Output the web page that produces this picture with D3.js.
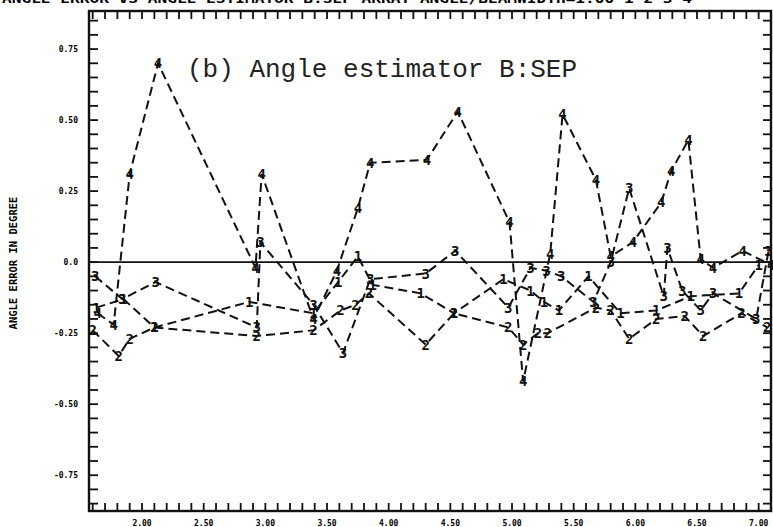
<!DOCTYPE html>
<html>
<head>
<meta charset="utf-8">
<script src="https://cdn.jsdelivr.net/npm/d3@7"></script>
<style>
  body { margin: 0; background: #fff; }
  svg { display: block; }
</style>
</head>
<body>
<div id="canvas"></div>
<script>
// plot frame in pixels
var W = 773, H = 527;
var frame = { left: 89, right: 771, top: 11, bottom: 511 };

// axis ticks and labels
var xLabelValues = [2.0, 2.5, 3.0, 3.5, 4.0, 4.5, 5.0, 5.5, 6.0, 6.5, 7.0];
var xLabels = ["2.00", "2.50", "3.00", "3.50", "4.00", "4.50", "5.00", "5.50", "6.00", "6.50", "7.00"];
var yLabelValues = [0.75, 0.5, 0.25, 0, -0.25, -0.5, -0.75];
var yLabels = ["0.75", "0.50", "0.25", "0.0", "-0.25", "-0.50", "-0.75"];

// series (x, angle error)
var s1x = [1.63, 1.85, 2.10, 2.87, 3.39, 3.59, 3.75, 3.87, 4.26, 4.53, 4.93, 5.15, 5.26, 5.38, 5.62, 5.88, 6.17, 6.45, 6.84, 7.00];
var s1y = [-0.16, -0.13, -0.23, -0.14, -0.18, -0.07, 0.02, -0.08, -0.11, -0.18, -0.06, -0.10, -0.14, -0.17, -0.05, -0.18, -0.17, -0.12, -0.11, -0.01];

var s2x = [1.60, 1.81, 1.90, 2.10, 2.93, 3.39, 3.61, 3.73, 3.84, 4.30, 4.53, 4.97, 5.09, 5.21, 5.29, 5.68, 5.80, 5.95, 6.17, 6.40, 6.55, 6.86, 7.07];
var s2y = [-0.24, -0.33, -0.27, -0.23, -0.26, -0.24, -0.17, -0.15, -0.11, -0.29, -0.18, -0.23, -0.29, -0.25, -0.25, -0.16, -0.17, -0.27, -0.20, -0.19, -0.26, -0.18, -0.23];

var s3x = [1.62, 1.84, 2.11, 2.93, 2.96, 3.39, 3.63, 3.85, 4.30, 4.54, 4.97, 5.15, 5.28, 5.40, 5.66, 5.80, 5.95, 6.23, 6.26, 6.38, 6.53, 6.63, 6.98, 7.08];
var s3y = [-0.05, -0.13, -0.07, -0.23, 0.07, -0.15, -0.32, -0.06, -0.04, 0.04, -0.16, -0.02, -0.03, -0.05, -0.14, 0.00, 0.26, -0.12, 0.05, -0.10, -0.17, -0.11, -0.20, 0.04];

var s4x = [1.64, 1.77, 1.90, 2.13, 2.92, 2.97, 3.39, 3.58, 3.75, 3.85, 4.31, 4.56, 4.98, 5.09, 5.31, 5.41, 5.68, 5.80, 5.98, 6.21, 6.29, 6.43, 6.53, 6.63, 6.87, 7.10];
var s4y = [-0.18, -0.22, 0.31, 0.70, -0.02, 0.31, -0.20, -0.03, 0.19, 0.35, 0.36, 0.53, 0.14, -0.42, 0.03, 0.52, 0.29, 0.02, 0.07, 0.21, 0.32, 0.43, 0.01, -0.02, 0.04, -0.01];

var series = [
  { mark: "1", xs: s1x, ys: s1y },
  { mark: "2", xs: s2x, ys: s2y },
  { mark: "3", xs: s3x, ys: s3y },
  { mark: "4", xs: s4x, ys: s4y },
];

var svg = d3
  .select("#canvas")
  .append("svg")
  .attr("width", W)
  .attr("height", H);

var xScale = d3.scaleLinear().domain([1.57, 7.1]).range([frame.left, frame.right]);
var yScale = d3.scaleLinear().domain([-0.876, 0.884]).range([frame.bottom, frame.top]);

// header strip (cut off at the top of the scan)
svg
  .append("text")
  .attr("x", 2)
  .attr("y", 3)
  .attr("textLength", 690)
  .attr("lengthAdjust", "spacingAndGlyphs")
  .style("font-family", "DejaVu Sans Mono")
  .style("font-weight", "bold")
  .style("font-size", "12px")
  .text("ANGLE ERROR VS ANGLE ESTIMATOR B:SEP   ARRAY ANGLE/BEAMWIDTH=1.00   1 2 3 4");

// minor ticks
var xTicks = d3.range(16, 72).map((d) => d / 10);
var yTicks = d3.range(-17, 18).map((d) => d / 20);

var ticks = svg.append("g").attr("stroke", "#111").attr("stroke-width", 1.8);

ticks
  .selectAll(".tt")
  .data(xTicks)
  .enter()
  .append("line")
  .attr("x1", (d) => xScale(d))
  .attr("x2", (d) => xScale(d))
  .attr("y1", frame.top)
  .attr("y2", frame.top + 8);

ticks
  .selectAll(".tb")
  .data(xTicks)
  .enter()
  .append("line")
  .attr("x1", (d) => xScale(d))
  .attr("x2", (d) => xScale(d))
  .attr("y1", frame.bottom)
  .attr("y2", frame.bottom - 8);

ticks
  .selectAll(".tl")
  .data(yTicks)
  .enter()
  .append("line")
  .attr("x1", frame.left)
  .attr("x2", frame.left + 9)
  .attr("y1", (d) => yScale(d))
  .attr("y2", (d) => yScale(d));

ticks
  .selectAll(".tr")
  .data(yTicks)
  .enter()
  .append("line")
  .attr("x1", frame.right)
  .attr("x2", frame.right - 8)
  .attr("y1", (d) => yScale(d))
  .attr("y2", (d) => yScale(d));

// frame
svg
  .append("rect")
  .attr("x", frame.left)
  .attr("y", frame.top)
  .attr("width", frame.right - frame.left)
  .attr("height", frame.bottom - frame.top)
  .attr("fill", "none")
  .attr("stroke", "#111")
  .attr("stroke-width", 2.4);

// zero line
svg
  .append("line")
  .attr("x1", frame.left)
  .attr("x2", frame.right)
  .attr("y1", yScale(0))
  .attr("y2", yScale(0))
  .attr("stroke", "#111")
  .attr("stroke-width", 1.6);

// tick labels
svg
  .selectAll(".xl")
  .data(xLabelValues)
  .enter()
  .append("text")
  .attr("x", (d) => xScale(d))
  .attr("y", 526)
  .attr("text-anchor", "middle")
  .style("font-family", "DejaVu Sans Mono")
  .style("font-weight", "bold")
  .style("font-size", "8px")
  .text((d, i) => xLabels[i]);

svg
  .selectAll(".yl")
  .data(yLabelValues)
  .enter()
  .append("text")
  .attr("x", 78)
  .attr("y", (d) => yScale(d) + 3)
  .attr("text-anchor", "end")
  .style("font-family", "DejaVu Sans Mono")
  .style("font-weight", "bold")
  .style("font-size", "8px")
  .text((d, i) => yLabels[i]);

// y axis title
svg
  .append("text")
  .attr("transform", "translate(17," + 263 + ") rotate(-90)")
  .attr("text-anchor", "middle")
  .style("font-family", "DejaVu Sans Mono")
  .style("font-weight", "bold")
  .style("font-size", "10.5px")
  .text("ANGLE ERROR IN DEGREE");

// title
svg
  .append("text")
  .attr("x", 187)
  .attr("y", 77)
  .style("font-family", "Liberation Mono")
  .style("font-size", "26px")
  .attr("fill", "#222")
  .text("(b) Angle estimator B:SEP");

// dashed lines
var line = d3
  .line()
  .x((d) => xScale(d[0]))
  .y((d) => yScale(d[1]));

var plot = svg.append("g");

series.forEach(function (s) {
  var pts = s.xs.map((x, i) => [x, s.ys[i]]);
  plot
    .append("path")
    .datum(pts)
    .attr("d", line)
    .attr("fill", "none")
    .attr("stroke", "#111")
    .attr("stroke-width", 2)
    .attr("stroke-dasharray", "9,5");

  plot
    .selectAll(".m" + s.mark)
    .data(pts)
    .enter()
    .append("text")
    .attr("x", (d) => xScale(d[0]))
    .attr("y", (d) => yScale(d[1]))
    .attr("text-anchor", "middle")
    .attr("dominant-baseline", "central")
    .style("font-family", "DejaVu Sans Mono")
    .style("font-weight", "bold")
    .style("font-size", "14px")
    .attr("fill", "#111")
    .text(s.mark);
});
</script>
</body>
</html>
